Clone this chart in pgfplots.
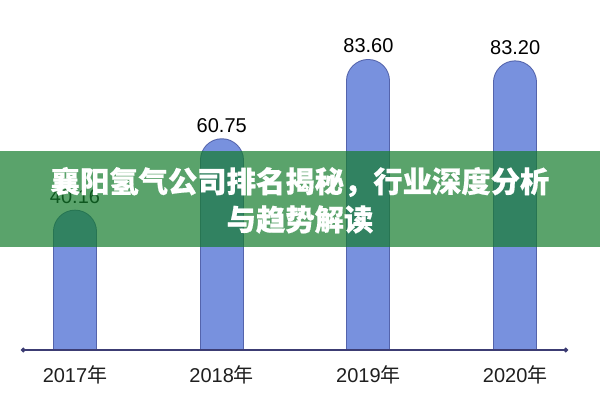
\documentclass[border=0pt]{standalone}
\usepackage{pgfplots}
\pgfplotsset{compat=1.18}
\usepackage{fontspec}
\setmainfont{Liberation Sans}
\newfontfamily\cjk{Noto Sans CJK SC}
\newfontfamily\cjktitle{Noto Sans CJK SC}[BoldFeatures={FakeBold=0.6}]
\usetikzlibrary{arrows.meta}
\definecolor{barblue}{RGB}{120,145,222}
\definecolor{baredge}{RGB}{84,100,172}
\definecolor{axisnavy}{RGB}{60,60,115}
\definecolor{banner}{RGB}{20,125,45}
\begin{document}
\begin{tikzpicture}
\useasboundingbox[fill=white] (0,0) rectangle (450pt,300pt);
\begin{axis}[
  at={(15.75pt,37.5pt)}, anchor=south west,
  scale only axis, width=410.25pt, height=262.5pt,
  xmin=-0.368, xmax=3.36, ymin=0, ymax=100.9,
  axis x line=bottom, axis y line=none,
  axis on top,
  x axis line style={draw=axisnavy, line width=1.1pt, {Circle[length=3.5pt]}-{Circle[length=3.5pt]}},
  xtick={0,1,2,3},
  xticklabels={2017{\cjk 年},2018{\cjk 年},2019{\cjk 年},2020{\cjk 年}},
  major tick length=0pt,
  xticklabel style={font=\fontsize{15}{17}\selectfont, text=black!88, yshift=-8pt},
]
\addplot[ycomb, draw=baredge, line width=33pt, line cap=round, yshift=-15.75pt]
  coordinates {(0,40.16) (1,60.75) (2,83.60) (3,83.20)};
\addplot[ycomb, draw=barblue, line width=31.5pt, line cap=round, yshift=-15.75pt]
  coordinates {(0,40.16) (1,60.75) (2,83.60) (3,83.20)};
\addplot[draw=none, mark=none, nodes near coords, point meta=explicit symbolic,
  nodes near coords style={font=\fontsize{15}{17}\selectfont, text=black, anchor=center, yshift=10.5pt}]
  coordinates {(0,40.16) [40.16] (1,60.75) [60.75] (2,83.60) [83.60] (3,83.20) [83.20]};
\end{axis}
\fill[banner, fill opacity=0.7] (0,114.75pt) rectangle (450pt,186.75pt);
\node[text=white, font=\cjktitle\bfseries\fontsize{22}{26}\selectfont, inner sep=0pt] at (225pt,163.5pt) {襄阳氢气公司排名揭秘，行业深度分析};
\node[text=white, font=\cjktitle\bfseries\fontsize{22}{26}\selectfont, inner sep=0pt] at (225pt,135.4pt) {与趋势解读};
\end{tikzpicture}
\end{document}
